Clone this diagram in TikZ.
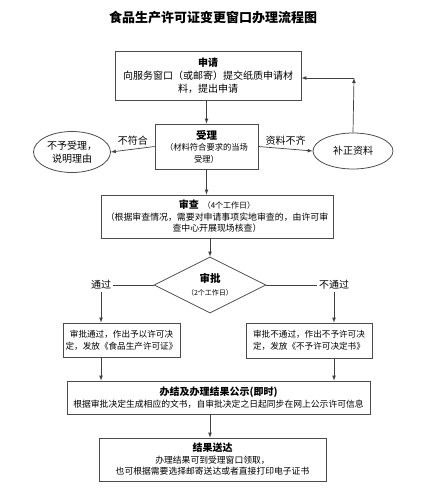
\documentclass[tikz,border=0pt]{standalone}
\usepackage{fontspec}
\setmainfont{Noto Sans CJK SC}
\usetikzlibrary{arrows, shapes.geometric, positioning}

\begin{document}
\begin{tikzpicture}[x=1pt, y=-1pt,
	box/.style={draw=black!70, line width=0.8pt, align=center, inner sep=2pt},
	oval/.style={draw=black!70, line width=0.8pt, ellipse, align=center, inner sep=1pt},
	arr/.style={draw=black!75, line width=0.7pt, -latex},
	lin/.style={draw=black!75, line width=0.7pt}]
	\useasboundingbox (0,0) rectangle (433,500);

	\node[font=\fontsize{13}{15}\selectfont\bfseries] (title) at (213,18) {食品生产许可证变更窗口办理流程图};

	\node[box, minimum width=186pt, minimum height=49pt, font=\fontsize{10}{13}\selectfont] (apply) at (208,75.5)
		{\textbf{申请}\\向服务窗口（或邮寄）提交纸质申请材\\料，提出申请};
	\node[box, minimum width=103pt, minimum height=45pt, font=\fontsize{8.3}{11.5}\selectfont] (accept) at (206.5,146.5)
		{{\fontsize{10.5}{11.5}\selectfont\bfseries 受理}\\（材料符合要求的当场\\受理）};
	\node[oval, minimum width=77pt, minimum height=41pt, font=\fontsize{10}{12.5}\selectfont] (reject) at (72,152)
		{不予受理，\\说明理由};
	\node[oval, minimum width=80pt, minimum height=36pt, font=\fontsize{10}{12}\selectfont] (fix) at (353,151) {补正资料};
	\coordinate (corner) at (354,78);

	\node[box, minimum width=232pt, minimum height=43pt, font=\fontsize{8.9}{11.5}\selectfont] (review) at (217,216.5)
		{\textbf{\fontsize{10}{11.5}\selectfont 审查}\ \ {\fontsize{8}{11.5}\selectfont（4个工作日）}\\（根据审查情况，需要对申请事项实地审查的，由许可审\\查中心开展现场核查）};

	\node[draw=black!70, line width=0.8pt, diamond, aspect=2, minimum width=112pt, minimum height=56pt, inner sep=0pt, align=center, font=\fontsize{10.5}{13}\selectfont] (approve) at (210,285)
		{\textbf{审批}\\{\fontsize{7}{9}\selectfont（2个工作日）}};
	\node[font=\fontsize{10}{12}\selectfont, inner sep=2pt] (pass) at (101,285) {通过};
	\node[font=\fontsize{10}{12}\selectfont, inner sep=2pt] (fail) at (334,285) {不通过};

	\node[box, minimum width=117pt, minimum height=34pt, font=\fontsize{8.6}{12}\selectfont] (passbox) at (121.5,340)
		{审批通过，作出予以许可决\\定，发放《食品生产许可证》};
	\node[box, minimum width=126pt, minimum height=35pt, font=\fontsize{8.6}{12}\selectfont] (failbox) at (309,340.5)
		{审批不通过，作出不予许可决\\定，发放《不予许可决定书》};

	\node[box, minimum width=303pt, minimum height=33pt, font=\fontsize{8.8}{12}\selectfont] (result) at (218.5,397.5)
		{\textbf{\fontsize{10}{12}\selectfont 办结及办理结果公示(即时)}\\根据审批决定生成相应的文书，自审批决定之日起同步在网上公示许可信息};
	\node[box, minimum width=227pt, minimum height=43pt, font=\fontsize{8.8}{11.5}\selectfont] (deliver) at (212.5,459.5)
		{\textbf{\fontsize{10}{11.5}\selectfont 结果送达}\\办理结果可到受理窗口领取，\\也可根据需要选择邮寄送达或者直接打印电子证书};

	% connectors
	\draw[arr] (apply.south -| accept) -- (accept.north);
	\draw[arr] (accept.west) -- node[above, font=\fontsize{10}{12}\selectfont] {不符合} (reject.east);
	\draw[arr] (accept.east) -- node[above, font=\fontsize{10}{12}\selectfont] {资料不齐} (fix.west);
	\draw[arr] (fix.north) -- (corner);
	\draw[arr] (corner) -- (apply.east |- corner);
	\draw[arr] (accept.south) -- (accept.south |- review.north);
	\draw[arr] (approve.north |- review.south) -- (approve.north);
	\draw[lin] (approve.west) -- (pass.east);
	\draw[lin] (approve.east) -- (fail.west);
	\draw[arr] (pass.south) -- (pass.south |- passbox.north);
	\draw[arr] (fail.south) -- (fail.south |- failbox.north);
	\draw[arr] (pass.south |- passbox.south) -- (pass.south |- result.north);
	\draw[arr] (fail.south |- failbox.south) -- (fail.south |- result.north);
	\draw[arr] (approve.south |- result.south) -- (approve.south |- deliver.north);
\end{tikzpicture}
\end{document}
